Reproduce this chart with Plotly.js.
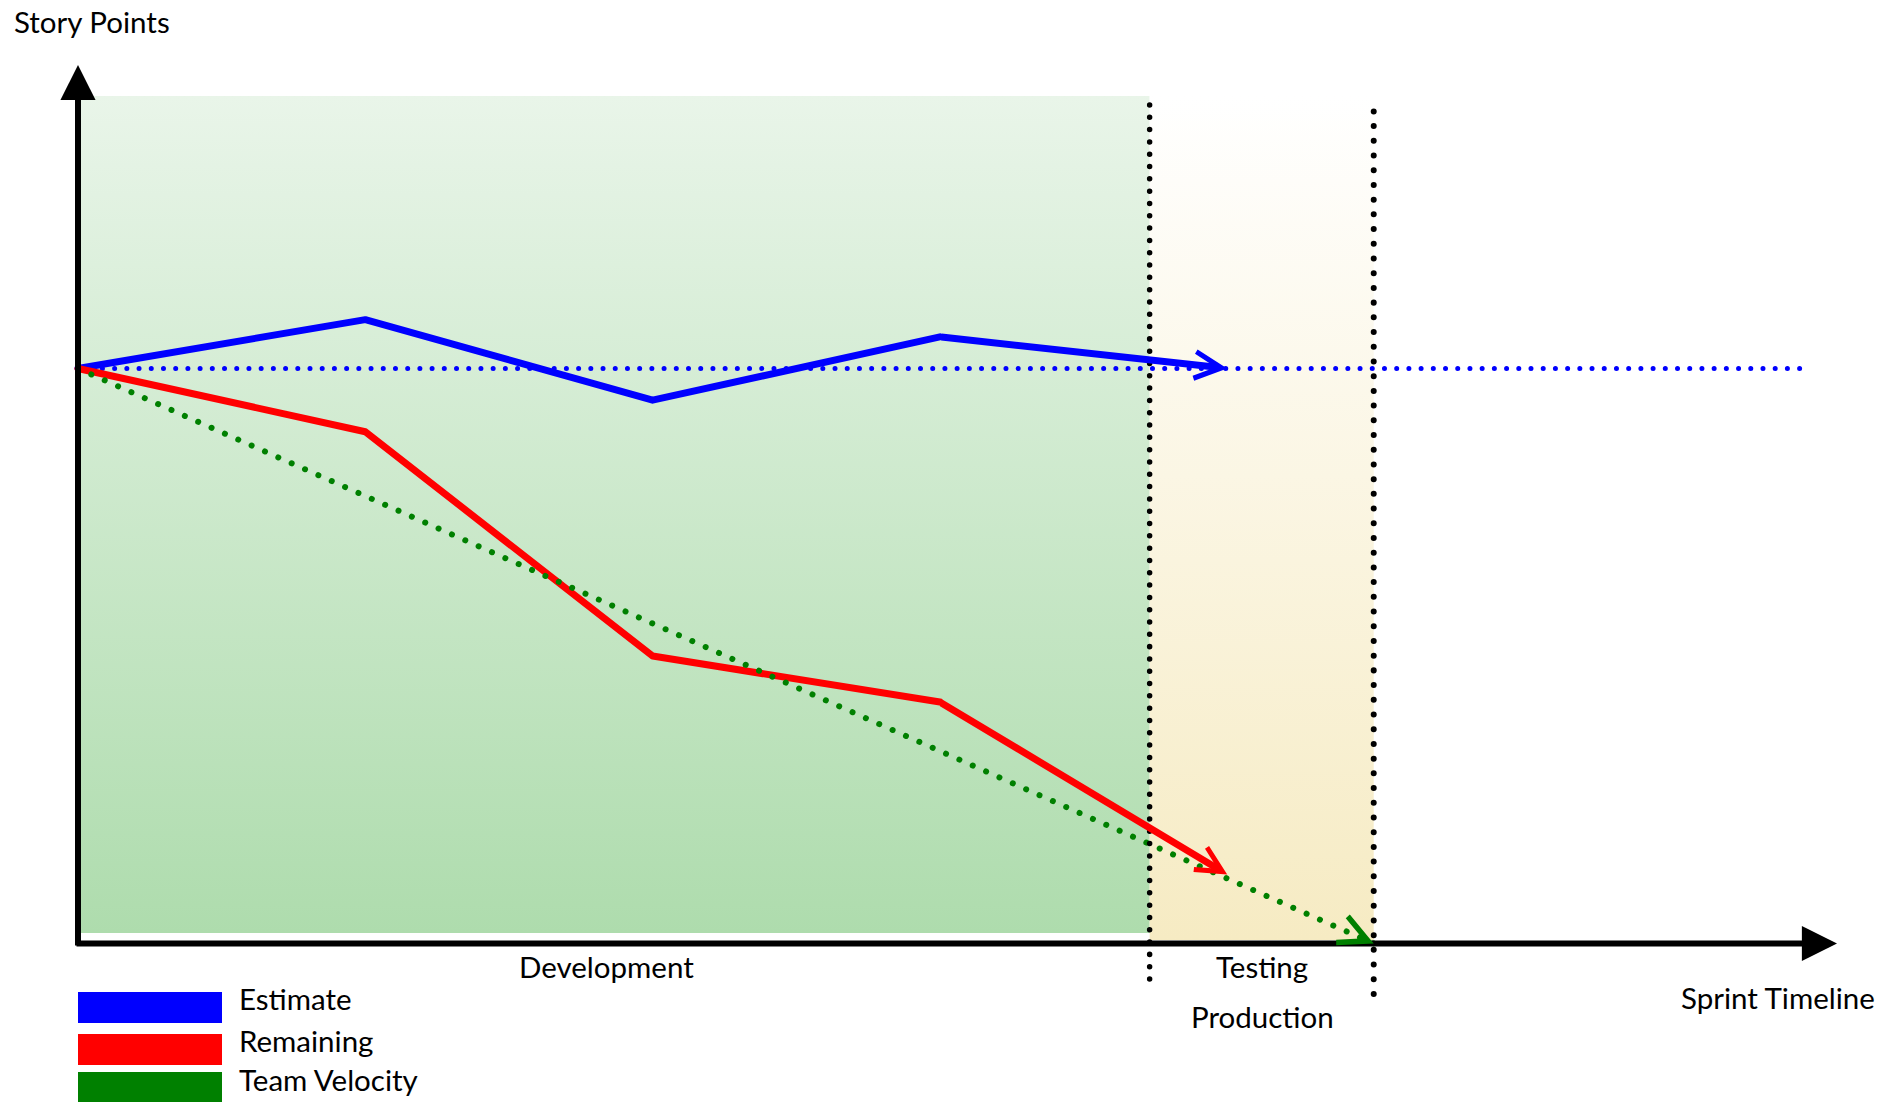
<!DOCTYPE html>
<html><head><meta charset="utf-8">
<script src="https://cdn.plot.ly/plotly-3.0.1.min.js"></script>
<style>
html,body{margin:0;padding:0;background:#fff;overflow:hidden;}
#chart{width:1883px;height:1102px;}
.scatterlayer .js-line, .shapelayer path {stroke-linecap:round; stroke-linejoin:round;}
</style></head><body><div id="chart"></div>
<script>
// ---- data ----
const sprintDays = [0, 1, 2, 3, 4];
const estimatePoints = [100, 108.5, 94.5, 105.5, 100];
const remainingPoints = [100, 89, 50, 42, 12];
const velocityDays = [0, 4.51];
const velocityPoints = [100, 0];
const baselineDays = [0, 6.02];
const baselinePoints = [100, 100];
const phaseNames = ['Development', 'Testing', 'Production'];
const phaseBounds = [0, 3.73, 4.51];
const seriesNames = ['Estimate', 'Remaining', 'Team Velocity'];
const seriesColors = ['#0000ff', '#ff0000', '#008000'];

// ---- layout helpers ----
const W = 1883, H = 1102;
const X0 = 78, KX = 287.3, Y0 = 943.5, KY = 5.75;
const xRange = [-X0 / KX, (W - X0) / KX];
const yRange = [-(H - Y0) / KY, Y0 / KY];
const py2y = p => (Y0 - p) / KY;
const px2x = p => (p - X0) / KX;
const pfx = p => p / W;
const pfy = p => 1 - p / H;
const FONT = 'Lato, sans-serif';
const FS = 29.5;

function rectTrace(x0, x1, y0, y1, c0, c1) {
  return {
    type: 'scatter', mode: 'lines', hoverinfo: 'skip', showlegend: false,
    x: [x0, x1, x1, x0, x0], y: [y0, y0, y1, y1, y0],
    line: {width: 0}, fill: 'toself', fillcolor: c1,
    fillgradient: {type: 'vertical', colorscale: [[0, c0], [1, c1]]}
  };
}

const traces = [
  rectTrace(phaseBounds[0], phaseBounds[1], py2y(933), py2y(96), '#aedcad', '#e9f5e9'),
  rectTrace(phaseBounds[1], phaseBounds[2], py2y(940), py2y(96), '#f6ebc3', '#ffffff'),
  {type: 'scatter', mode: 'lines', x: baselineDays, y: baselinePoints, hoverinfo: 'skip',
   line: {color: seriesColors[0], width: 5, dash: '0.01px,12.2px'}},
  {type: 'scatter', mode: 'lines', x: sprintDays.slice(0, 4), y: estimatePoints.slice(0, 4), name: seriesNames[0],
   line: {color: seriesColors[0], width: 7}},
  {type: 'scatter', mode: 'lines', x: sprintDays.slice(0, 4), y: remainingPoints.slice(0, 4), name: seriesNames[1],
   line: {color: seriesColors[1], width: 7}},
  {type: 'scatter', mode: 'lines', x: velocityDays, y: velocityPoints, name: seriesNames[2],
   line: {color: seriesColors[2], width: 6, dash: '0.01px,14.6px'}}
];

const shapes = [
  {type: 'line', xref: 'x', yref: 'paper', x0: phaseBounds[1], x1: phaseBounds[1], y0: pfy(979), y1: pfy(102),
   layer: 'above', line: {color: '#000', width: 5.5, dash: '0.01px,12.3px'}},
  {type: 'line', xref: 'x', yref: 'paper', x0: phaseBounds[2], x1: phaseBounds[2], y0: pfy(994), y1: pfy(108),
   layer: 'above', line: {color: '#000', width: 6, dash: '0.01px,14.7px'}}
];

// legend swatches
const legTop = [992, 1034, 1072], legBot = [1023, 1065, 1102];
seriesColors.forEach((c, i) => shapes.push({
  type: 'rect', xref: 'paper', yref: 'paper', x0: pfx(78), x1: pfx(222), y0: pfy(legBot[i]), y1: pfy(legTop[i]),
  line: {width: 0}, fillcolor: c, layer: 'above'
}));

const annotations = [];
function txt(text, xp, yp, xanchor) {
  annotations.push({text: text, xref: 'paper', yref: 'paper', x: pfx(xp), y: pfy(yp),
    xanchor: xanchor || 'center', yanchor: 'middle', showarrow: false,
    font: {family: FONT, size: FS, color: '#000'}});
}
// axes
annotations.push({xref: 'x', yref: 'y', axref: 'x', ayref: 'y', text: '',
  x: 0, y: py2y(65), ax: 0, ay: py2y(947),
  showarrow: true, arrowhead: 2, arrowsize: 1.17, arrowwidth: 6, arrowcolor: '#000', standoff: 0});
annotations.push({xref: 'x', yref: 'y', axref: 'x', ayref: 'y', text: '',
  x: px2x(1837), y: 0, ax: px2x(75), ay: 0,
  showarrow: true, arrowhead: 2, arrowsize: 1.17, arrowwidth: 6, arrowcolor: '#000', standoff: 0});
// line-end arrows
function segArrow(xs, ys, color, size) {
  const n = xs.length;
  annotations.push({xref: 'x', yref: 'y', axref: 'x', ayref: 'y', text: '',
    x: xs[n - 1], y: ys[n - 1], ax: xs[n - 2], ay: ys[n - 2],
    showarrow: true, arrowhead: 5, arrowsize: size, arrowwidth: 7, arrowcolor: color, standoff: 0});
}
segArrow(sprintDays, estimatePoints, seriesColors[0], 0.75);
segArrow(sprintDays, remainingPoints, seriesColors[1], 0.72);
// velocity head only (short tail along the velocity line)
(function () {
  const dxs = (velocityDays[1] - velocityDays[0]) * KX;
  const dys = -(velocityPoints[1] - velocityPoints[0]) * KY;
  const len = Math.hypot(dxs, dys), L = 18;
  annotations.push({xref: 'x', yref: 'y', text: '', x: velocityDays[1], y: velocityPoints[1],
    ax: -dxs / len * L, ay: -dys / len * L,
    showarrow: true, arrowhead: 5, arrowsize: 0.8, arrowwidth: 7, arrowcolor: seriesColors[2], standoff: 0});
})();

txt('Story Points', 12, 21, 'left');
txt('Sprint Timeline', 1877, 997, 'right');
txt(phaseNames[0], 606, 966.5);
txt(phaseNames[1], 1262, 966.5);
txt(phaseNames[2], 1262, 1016.5);
seriesNames.forEach((s, i) => txt(s, 237, [998.5, 1040, 1079][i], 'left'));

const layout = {
  width: W, height: H, margin: {l: 0, r: 0, t: 0, b: 0, pad: 0},
  paper_bgcolor: '#ffffff', plot_bgcolor: 'rgba(0,0,0,0)', showlegend: false,
  xaxis: {range: xRange, visible: false, fixedrange: true},
  yaxis: {range: yRange, visible: false, fixedrange: true},
  shapes: shapes, annotations: annotations
};
Plotly.newPlot('chart', traces, layout, {displayModeBar: false, staticPlot: true});
</script></body></html>
